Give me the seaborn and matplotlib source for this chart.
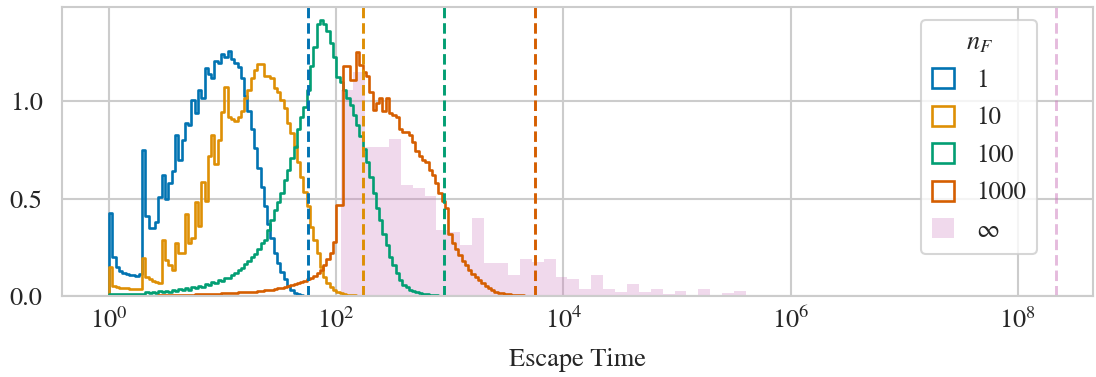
import numpy as np
import pandas as pd
import matplotlib
matplotlib.use("Agg")
import matplotlib.pyplot as plt
import seaborn as sns
from matplotlib.patches import Patch
from matplotlib.ticker import FixedLocator, NullLocator

# ---------------- data ----------------
# step histograms: common log10 bin grid
step_start = 0.0          # log10 of first bin edge
step_bin_width = 0.029    # decades per bin
# pink (n_F = infinity) histogram grid
inf_start = 2.044
inf_bin_width = 0.1048

labels = ["1", "10", "100", "1000", r"$\infty$"]

blue_first_bin = 0
blue_density = [
    0.425, 0.20, 0.15, 0.13, 0.12, 0.115, 0.11, 0.11, 0.105, 0.115,
    0.75, 0.41, 0.35, 0.35, 0.38, 0.51, 0.62, 0.50, 0.58, 0.64,
    0.83, 0.70, 0.80, 0.89, 0.88, 1.01, 0.94, 1.06, 1.02, 1.17,
    1.14, 1.12, 1.21, 1.20, 1.245, 1.23, 1.26, 1.22, 1.20, 1.175,
    1.12, 1.03, 0.95, 0.86, 0.76, 0.66, 0.56, 0.46, 0.37, 0.30,
    0.22, 0.17, 0.125, 0.085, 0.05, 0.03, 0.015, 0.008, 0.004, 0.002,
    0.001,
]

orange_first_bin = 0
orange_density = [
    0.15, 0.05, 0.045, 0.042, 0.04, 0.04, 0.038, 0.037, 0.036, 0.035,
    0.195, 0.10, 0.085, 0.075, 0.07, 0.065, 0.288, 0.185, 0.16, 0.135,
    0.27, 0.22, 0.22, 0.42, 0.27, 0.30, 0.485, 0.36, 0.587, 0.49,
    0.72, 0.83, 0.68, 0.80, 0.947, 1.075, 0.92, 0.91, 0.90, 0.92,
    0.95, 1.02, 1.06, 1.12, 1.16, 1.195, 1.19, 1.13, 1.13, 1.12,
    1.07, 1.05, 1.01, 0.965, 0.89, 0.84, 0.77, 0.69, 0.61, 0.536,
    0.46, 0.356, 0.288, 0.22, 0.15, 0.10, 0.065, 0.045, 0.03, 0.02,
    0.014, 0.01, 0.007, 0.005, 0.003, 0.002, 0.001,
]

green_first_bin = 0
green_density = [
    0.008, 0.008, 0.008, 0.009, 0.009, 0.009, 0.010, 0.010, 0.010, 0.011,
    0.012, 0.020, 0.014, 0.022, 0.016, 0.025, 0.019, 0.028, 0.022, 0.031,
    0.025, 0.035, 0.029, 0.040, 0.033, 0.045, 0.039, 0.052, 0.046, 0.060,
    0.055, 0.070, 0.066, 0.082, 0.078, 0.095, 0.092, 0.110, 0.118, 0.135,
    0.145, 0.162, 0.178, 0.198, 0.215, 0.24, 0.27, 0.29, 0.34, 0.39,
    0.44, 0.485, 0.53, 0.596, 0.647, 0.71, 0.767, 0.86, 0.92, 0.97,
    1.06, 1.18, 1.28, 1.40, 1.418, 1.40, 1.36, 1.30, 1.23, 1.127,
    1.10, 1.06, 1.02, 0.98, 0.93, 0.88, 0.82, 0.757, 0.69, 0.61,
    0.53, 0.45, 0.39, 0.32, 0.262, 0.20, 0.16, 0.117, 0.082, 0.056,
    0.045, 0.032, 0.025, 0.018, 0.014, 0.01, 0.008, 0.006, 0.004, 0.003,
    0.002, 0.001,
]

vermillion_first_bin = 10
vermillion_density = [
    0.001, 0.001, 0.002, 0.002, 0.002, 0.003, 0.003, 0.003, 0.004, 0.004,
    0.005, 0.005, 0.006, 0.006, 0.007, 0.007, 0.008, 0.008, 0.009, 0.010,
    0.010, 0.011, 0.012, 0.012, 0.013, 0.014, 0.015, 0.016, 0.017, 0.018,
    0.019, 0.020, 0.021, 0.022, 0.023, 0.025, 0.027, 0.029, 0.031, 0.033,
    0.036, 0.039, 0.042, 0.046, 0.050, 0.055, 0.060, 0.066, 0.072, 0.079,
    0.087, 0.095, 0.105, 0.118, 0.135, 0.16, 0.19, 0.22, 0.28, 0.467,
    0.47, 1.18, 1.18, 1.11, 1.11, 1.255, 1.187, 1.15, 1.13, 1.05,
    0.956, 0.99, 1.02, 0.95, 1.016, 0.94, 0.93, 0.92, 0.86, 0.845,
    0.845, 0.827, 0.79, 0.745, 0.72, 0.70, 0.69, 0.647, 0.62, 0.58,
    0.53, 0.49, 0.45, 0.32, 0.27, 0.24, 0.21, 0.18, 0.16, 0.135,
    0.115, 0.10, 0.082, 0.065, 0.05, 0.04, 0.03, 0.022, 0.017, 0.013,
    0.01, 0.008, 0.006, 0.005, 0.004, 0.003, 0.002, 0.002, 0.001, 0.001,
]

inf_density = [
    1.06, 1.15, 0.767, 0.767, 0.805, 0.57, 0.553, 0.515, 0.34, 0.33,
    0.262, 0.40, 0.168, 0.168, 0.108, 0.19, 0.176, 0.19, 0.096, 0.085,
    0.034, 0.108, 0.034, 0.022, 0.062, 0.022, 0.034, 0.01, 0.025, 0.004,
    0.035, 0.0, 0.013, 0.025,
]

# dashed reference lines (escape-time markers)
marker_times = [56.9, 173.0, 895.0, 5660.0, 2.15e8]

# ---------------- style ----------------
sns.set_theme(style="whitegrid", palette="colorblind")
plt.rcParams["font.family"] = ["STIXGeneral", "Liberation Serif", "DejaVu Serif"]
plt.rcParams["mathtext.fontset"] = "stix"
plt.rcParams["axes.edgecolor"] = "0.8"
plt.rcParams["axes.linewidth"] = 1.5
plt.rcParams["grid.color"] = "0.8"
plt.rcParams["grid.linewidth"] = 1.5

pal = sns.color_palette("colorblind")
colors = [pal[0], pal[1], pal[2], pal[3], pal[4]]

fig = plt.figure(figsize=(10.96, 3.77), dpi=100)
ax = fig.add_axes([0.0566, 0.2149, 0.9407, 0.7673])

# pink filled histogram (n_F = infinity)
inf_edges_log = inf_start + inf_bin_width * np.arange(len(inf_density) + 1)
inf_df = pd.DataFrame({
    "t": 10 ** (0.5 * (inf_edges_log[:-1] + inf_edges_log[1:])),
    "w": np.asarray(inf_density, dtype=float),
})
sns.histplot(data=inf_df, x="t", weights="w", bins=list(10 ** inf_edges_log),
             element="bars", fill=True, stat="count", color=colors[4],
             alpha=0.28, linewidth=0, ax=ax)

series = [
    (blue_first_bin, blue_density),
    (orange_first_bin, orange_density),
    (green_first_bin, green_density),
    (vermillion_first_bin, vermillion_density),
]
for (first, vals), c in zip(series, colors[:4]):
    n = len(vals)
    idx = np.arange(first - 1, first + n + 1)
    edges_log = step_start + step_bin_width * idx
    df = pd.DataFrame({
        "t": 10 ** (0.5 * (edges_log[:-1] + edges_log[1:])),
        "w": np.concatenate([[0.0], np.asarray(vals, dtype=float)]),
    })
    sns.histplot(data=df, x="t", weights="w", bins=list(10 ** edges_log),
                 element="step", fill=False, stat="count", color=c,
                 linewidth=1.9, ax=ax)

for t, c in zip(marker_times, colors):
    ax.axvline(t, color=c, ls=(0, (3.6, 1.7)), lw=2.1,
               alpha=0.5 if c == colors[4] else 1.0)

ax.set_xscale("log")
ax.set_xlim(10 ** -0.414, 10 ** 8.662)
ax.set_ylim(0, 1.487)
ax.xaxis.set_major_locator(FixedLocator([1e0, 1e2, 1e4, 1e6, 1e8]))
ax.xaxis.set_minor_locator(NullLocator())
ax.set_yticks([0.0, 0.5, 1.0])
ax.set_yticklabels(["0.0", "0.5", "1.0"])
ax.tick_params(axis="both", labelsize=19, length=0)
ax.tick_params(axis="y", pad=14)
ax.tick_params(axis="x", pad=8.5)
ax.set_ylabel("")
ax.set_xlabel("Escape Time", fontsize=19, labelpad=10)
for s in ax.spines.values():
    s.set_color("0.8")
    s.set_linewidth(1.5)

handles = [Patch(facecolor="none", edgecolor=c, linewidth=1.9) for c in colors[:4]]
handles.append(Patch(facecolor=colors[4], alpha=0.28, edgecolor="none"))
leg = ax.legend(handles, labels, title=r"$n_F$", loc="upper right",
                bbox_to_anchor=(0.946, 0.955), borderaxespad=0.0,
                fontsize=18, title_fontsize=19, frameon=True,
                handlelength=0.85, handleheight=0.85, handletextpad=0.9,
                labelspacing=0.52, borderpad=0.45)
leg.get_frame().set_edgecolor("0.8")
leg.get_frame().set_linewidth(1.5)

fig.savefig("out.png", dpi=100)
